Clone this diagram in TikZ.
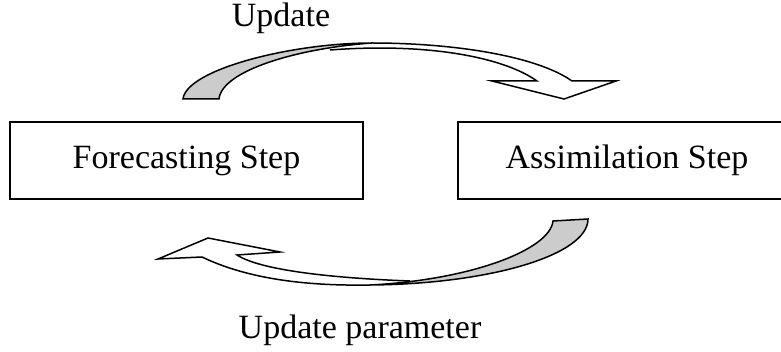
\documentclass[tikz,border=0pt]{standalone}
\usepackage{fontspec}
\setmainfont{Liberation Serif}

\tikzset{
  stepbox/.style={draw, line width=1pt, minimum height=38.5pt, inner sep=0pt,
    font=\fontsize{17}{20}\selectfont},
  looptext/.style={anchor=base, inner sep=0pt, font=\fontsize{17}{20}\selectfont},
  tailface/.style={fill=black!20, draw=black, line width=0.75pt},
  frontface/.style={draw=black, line width=0.75pt},
}

\begin{document}
\begin{tikzpicture}[x=0.5pt,y=-0.5pt]
    \useasboundingbox (0,0) rectangle (781,352);

    % the two steps
    \node[stepbox, minimum width=176.5pt] (forecast) at (186.5,160.5) {Forecasting Step};
    \node[stepbox, minimum width=169pt] (assim) at (627,160.5) {Assimilation Step};

    % upper curved arrow, forecasting -> assimilation
    \draw[frontface] (330,50) .. controls (420,43) and (500,55) .. (537,81)
        -- (492,81) -- (564,99) -- (616,81) -- (572,81)
        .. controls (535,55) and (450,43) .. (372,43);
    \filldraw[tailface] (183,99) .. controls (186,70) and (290,43) .. (372,43)
        .. controls (300,48) and (222,70) .. (219,99) -- cycle;
    \node[looptext] (update) at (281,27) {Update};

    % lower curved arrow, assimilation -> forecasting
    \draw[frontface] (410,281) .. controls (330,278) and (260,270) .. (237,255)
        -- (280,252) -- (208,238) -- (158,259) -- (202,257)
        .. controls (250,280) and (310,286) .. (370,285);
    \filldraw[tailface] (588,219) .. controls (588,255) and (490,284) .. (370,285)
        .. controls (470,280) and (550,250) .. (553,221) -- cycle;
    \node[looptext] (updparam) at (360,338) {Update parameter};
\end{tikzpicture}
\end{document}
